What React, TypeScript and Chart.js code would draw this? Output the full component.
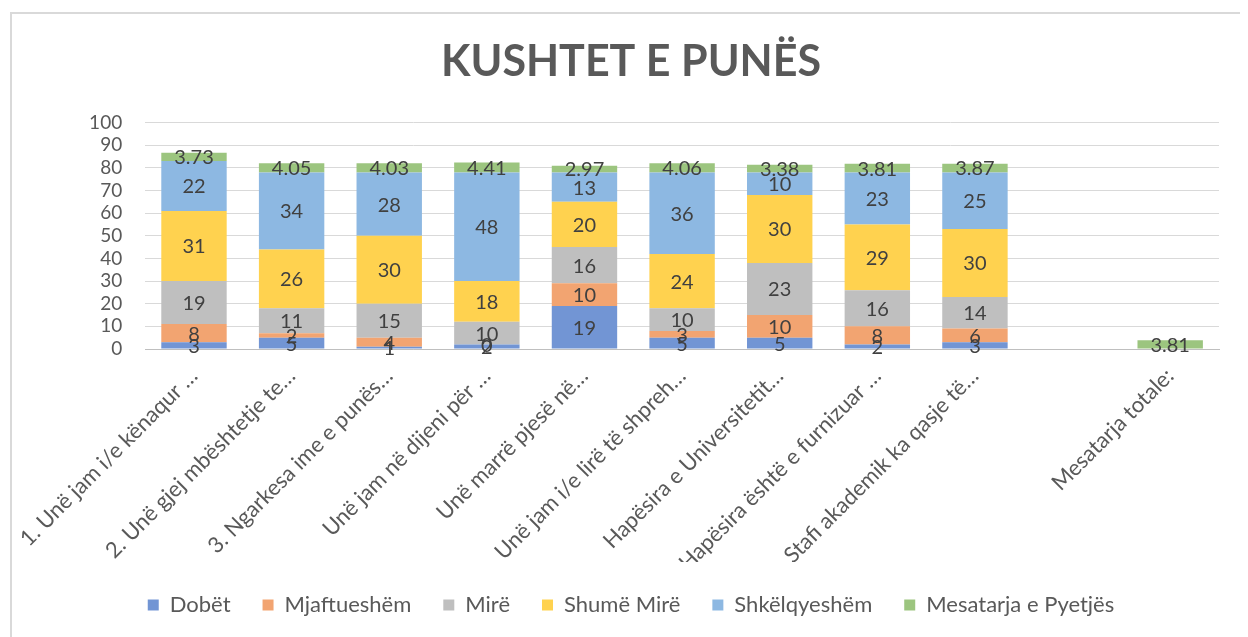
import React, { useEffect, useRef } from "react";
import { Chart, registerables } from "chart.js";

Chart.register(...registerables);

const categories = [
  "1. Unë jam i/e kënaqur …",
  "2. Unë gjej mbështetje te…",
  "3. Ngarkesa ime e punës…",
  "Unë jam në dijeni për …",
  "Unë marrë pjesë në…",
  "Unë jam i/e lirë të shpreh…",
  "Hapësira e Universitetit…",
  "Hapësira është e furnizuar …",
  "Stafi akademik ka qasje të…",
  "",
  "Mesatarja totale:",
];

const dobet = [3, 5, 1, 2, 19, 5, 5, 2, 3, null, null];
const mjaftueshem = [8, 2, 4, 0, 10, 3, 10, 8, 6, null, null];
const mire = [19, 11, 15, 10, 16, 10, 23, 16, 14, null, null];
const shumeMire = [31, 26, 30, 18, 20, 24, 30, 29, 30, null, null];
const shkelqyeshem = [22, 34, 28, 48, 13, 36, 10, 23, 25, null, null];
const mesatarja = [3.73, 4.05, 4.03, 4.41, 2.97, 4.06, 3.38, 3.81, 3.87, null, 3.81];

const yTicks = [0, 10, 20, 30, 40, 50, 60, 70, 80, 90, 100];

const FONT = "Lato, 'Open Sans', sans-serif";

const labelPlugin = {
  id: "centerLabels",
  afterDatasetsDraw(chart: any) {
    const ctx = chart.ctx;
    ctx.save();
    ctx.font = `20px ${FONT}`;
    ctx.fillStyle = "#404040";
    ctx.textAlign = "center";
    ctx.textBaseline = "middle";
    chart.data.datasets.forEach((ds: any, i: number) => {
      const meta = chart.getDatasetMeta(i);
      meta.data.forEach((el: any, j: number) => {
        const v = ds.data[j];
        if (v === null || v === undefined) return;
        const y = (el.y + el.base) / 2;
        ctx.fillText(String(v), el.x, y + 1);
      });
    });
    ctx.restore();
  },
};

export default function App() {
  const ref = useRef<HTMLCanvasElement>(null);
  useEffect(() => {
    if (!ref.current) return;
    const mk = (label: string, data: any[], color: string) => ({
      label,
      data,
      backgroundColor: color,
      borderWidth: 0,
      categoryPercentage: 1,
      barPercentage: 0.67,
    });
    const chart = new Chart(ref.current, {
      type: "bar",
      data: {
        labels: categories,
        datasets: [
          mk("Dobët", dobet, "#7295D4"),
          mk("Mjaftueshëm", mjaftueshem, "#F2A471"),
          mk("Mirë", mire, "#BFBFBF"),
          mk("Shumë Mirë", shumeMire, "#FFD24F"),
          mk("Shkëlqyeshëm", shkelqyeshem, "#8DB8E2"),
          mk("Mesatarja e Pyetjës", mesatarja, "#9CC57F"),
        ],
      },
      options: {
        animation: false,
        responsive: false,
        layout: { padding: { left: 31, right: 26, top: 0, bottom: 11 } },
        plugins: {
          title: {
            display: true,
            text: "KUSHTET E PUNËS",
            color: "#595959",
            font: { family: FONT, size: 43, weight: "bold" },
            padding: { top: 22, bottom: 35 },
          },
          legend: {
            position: "bottom",
            labels: {
              boxWidth: 11,
              boxHeight: 11,
              color: "#595959",
              font: { family: FONT, size: 22 },
              padding: 32,
            },
          },
          tooltip: { enabled: false },
        },
        scales: {
          x: {
            stacked: true,
            afterFit: (s: any) => {
              s.height = 213;
            },
            grid: { display: false },
            border: { color: "#BFBFBF", width: 1 },
            ticks: {
              color: "#595959",
              font: { family: FONT, size: 22 },
              minRotation: 45,
              maxRotation: 45,
              autoSkip: false,
              padding: 6,
            },
          },
          y: {
            stacked: true,
            min: 0,
            max: 100,
            afterFit: (s: any) => {
              s.width = 100;
            },
            afterBuildTicks: (s: any) => {
              s.ticks = yTicks.map((v) => ({ value: v }));
            },
            grid: { color: "#D9D9D9", drawTicks: false },
            border: { display: false },
            ticks: {
              color: "#595959",
              font: { family: FONT, size: 19 },
              padding: 23,
              autoSkip: false,
            },
          },
        },
      },
      plugins: [labelPlugin],
    });
    return () => chart.destroy();
  }, []);
  return (
    <div
      style={{
        marginLeft: 2,
        marginTop: 4,
        width: 1237,
        height: 650,
        borderTop: "2px solid #D9D9D9",
        borderLeft: "2px solid #D9D9D9",
        borderRight: "2px solid #D9D9D9",
        boxSizing: "border-box",
        background: "#fff",
      }}
    >
      <canvas ref={ref} width={1233} height={623} style={{ display: "block" }} />
    </div>
  );
}
